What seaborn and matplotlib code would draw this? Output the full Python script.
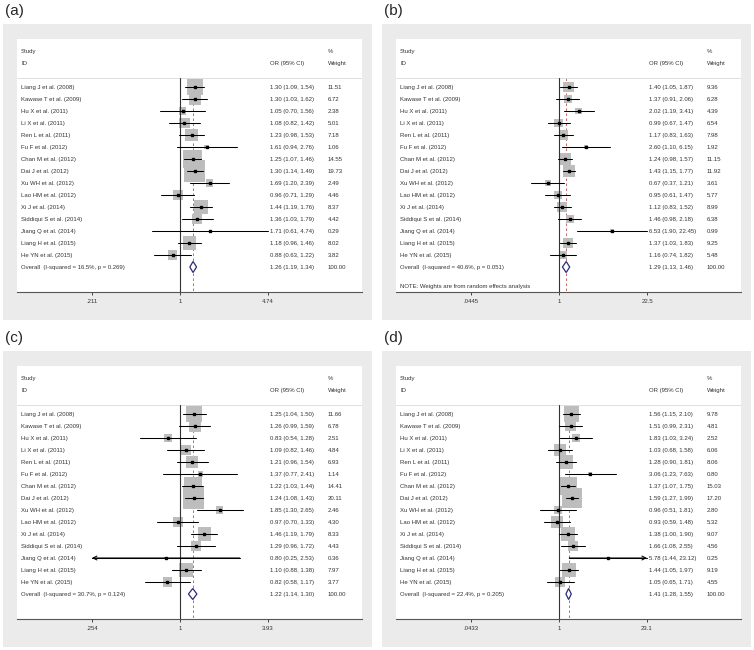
import matplotlib
matplotlib.use("Agg")
import matplotlib.pyplot as plt
from matplotlib.patches import Rectangle, Polygon
import numpy as np
import seaborn as sns

studies = [
    "Liang J et al. (2008)", "Kawase T et al. (2009)", "Hu X et al. (2011)",
    "Li X et al. (2011)", "Ren L et al. (2011)", "Fu F et al. (2012)",
    "Chan M et al. (2012)", "Dai J et al. (2012)", "Xu WH et al. (2012)",
    "Lao HM et al. (2012)", "Xi J et al. (2014)", "Siddiqui S et al. (2014)",
    "Jiang Q et al. (2014)", "Liang H et al. (2015)", "He YN et al. (2015)",
]

# (a)
or_a = [1.30, 1.30, 1.05, 1.08, 1.23, 1.61, 1.25, 1.30, 1.69, 0.96, 1.44, 1.36, 1.71, 1.18, 0.88]
lo_a = [1.09, 1.03, 0.70, 0.82, 0.98, 0.94, 1.07, 1.14, 1.20, 0.71, 1.19, 1.03, 0.61, 0.96, 0.63]
hi_a = [1.54, 1.62, 1.56, 1.42, 1.53, 2.76, 1.46, 1.49, 2.39, 1.29, 1.76, 1.79, 4.74, 1.46, 1.22]
wt_a = [11.51, 6.72, 2.38, 5.01, 7.18, 1.06, 14.55, 19.73, 2.49, 4.46, 8.37, 4.42, 0.29, 8.02, 3.82]
overall_a = [1.26, 1.19, 1.34]
het_a = "Overall  (I-squared = 16.5%, p = 0.269)"
ticks_a = [0.211, 1, 4.74]
ticklabels_a = [".211", "1", "4.74"]

# (b)
or_b = [1.40, 1.37, 2.02, 0.99, 1.17, 2.60, 1.24, 1.43, 0.67, 0.95, 1.12, 1.46, 6.53, 1.37, 1.16]
lo_b = [1.05, 0.91, 1.19, 0.67, 0.83, 1.10, 0.98, 1.15, 0.37, 0.61, 0.83, 0.98, 1.90, 1.03, 0.74]
hi_b = [1.87, 2.06, 3.41, 1.47, 1.63, 6.15, 1.57, 1.77, 1.21, 1.47, 1.52, 2.18, 22.45, 1.83, 1.82]
wt_b = [9.36, 6.28, 4.39, 6.54, 7.98, 1.92, 11.15, 11.92, 3.61, 5.77, 8.99, 6.38, 0.99, 9.25, 5.48]
overall_b = [1.29, 1.13, 1.46]
het_b = "Overall  (I-squared = 40.6%, p = 0.051)"
ticks_b = [0.0445, 1, 22.5]
ticklabels_b = [".0445", "1", "22.5"]

# (c)
or_c = [1.25, 1.26, 0.83, 1.09, 1.21, 1.37, 1.22, 1.24, 1.85, 0.97, 1.46, 1.29, 0.80, 1.10, 0.82]
lo_c = [1.04, 0.99, 0.54, 0.82, 0.96, 0.77, 1.03, 1.08, 1.30, 0.70, 1.19, 0.96, 0.25, 0.88, 0.58]
hi_c = [1.50, 1.59, 1.28, 1.46, 1.54, 2.41, 1.44, 1.43, 2.65, 1.33, 1.79, 1.72, 2.53, 1.38, 1.17]
wt_c = [11.66, 6.78, 2.51, 4.84, 6.93, 1.14, 14.41, 20.11, 2.46, 4.30, 8.33, 4.43, 0.36, 7.97, 3.77]
overall_c = [1.22, 1.14, 1.30]
het_c = "Overall  (I-squared = 30.7%, p = 0.124)"
ticks_c = [0.254, 1, 3.93]
ticklabels_c = [".254", "1", "3.93"]

# (d)
or_d = [1.56, 1.51, 1.83, 1.03, 1.28, 3.06, 1.37, 1.59, 0.96, 0.93, 1.38, 1.66, 5.78, 1.44, 1.05]
lo_d = [1.15, 0.99, 1.03, 0.68, 0.90, 1.23, 1.07, 1.27, 0.51, 0.59, 1.00, 1.08, 1.44, 1.05, 0.65]
hi_d = [2.10, 2.31, 3.24, 1.58, 1.81, 7.63, 1.75, 1.99, 1.81, 1.48, 1.90, 2.55, 23.12, 1.97, 1.71]
wt_d = [9.78, 4.81, 2.52, 6.06, 8.06, 0.80, 15.03, 17.20, 2.80, 5.32, 9.07, 4.56, 0.25, 9.19, 4.55]
overall_d = [1.41, 1.28, 1.55]
het_d = "Overall  (I-squared = 22.4%, p = 0.205)"
ticks_d = [0.0433, 1, 23.1]
ticklabels_d = [".0433", "1", "23.1"]

note_b = "NOTE: Weights are from random effects analysis"

sns.set_theme(style="white")
plt.rcParams["font.family"] = ["Liberation Sans", "DejaVu Sans"]

W, H = 754, 650
fig = plt.figure(figsize=(W / 100, H / 100), dpi=100)

TXT = "#333333"
FS = 4.3


def forest(ox, oy, label, est, lo, hi, wt, overall, het, ticks, ticklabels, box_px, note=None):
    # grey panel background
    bg = fig.add_axes([(ox + 3) / W, 1 - (oy + 320) / H, 369 / W, 296 / H], zorder=-5)
    bg.set_facecolor("#ebebeb")
    bg.set_xticks([])
    bg.set_yticks([])
    for s in bg.spines.values():
        s.set_visible(False)
    fig.text((ox + 5) / W, 1 - (oy + 11) / H, label, fontsize=11, va="center", ha="left")

    left, right, top, bottom = ox + 17, ox + 362, oy + 39, oy + 292
    ax = fig.add_axes([left / W, 1 - bottom / H, (right - left) / W, (bottom - top) / H])
    ax.set_facecolor("white")

    T = ticks[-1]
    null_px = 163
    scale = 88 / np.log(T)  # pixels per ln unit
    xlo = np.exp(-null_px / scale)
    xhi = np.exp((right - left - null_px) / scale)
    ax.set_xscale("log")

    rows = np.arange(len(studies))
    y_over = len(studies)
    y_line = -0.75

    # reference lines
    ax.plot([overall[0], overall[0]], [y_line, 17.2], color="#c0504d", lw=0.6,
            ls=(0, (3, 3)), zorder=1)

    # weight boxes, area proportional to weight
    smax = (box_px * np.sqrt(max(wt)) * 0.72) ** 2
    sns.scatterplot(x=est, y=rows, size=wt, sizes=(0, smax), size_norm=(0, max(wt)),
                    marker="s", color="#bdbdbd", linewidth=0, legend=False, ax=ax, zorder=2)

    ax.plot([1, 1], [y_line, 17.2], color="#333333", lw=0.8, zorder=3)

    for r, e, l, h in zip(rows, est, lo, hi):
        l2, h2 = max(l, ticks[0]), min(h, ticks[-1])
        ax.plot([l2, h2], [r, r], color="black", lw=0.75, zorder=4)
        if l < ticks[0]:
            ax.annotate("", xy=(ticks[0], r), xytext=(h2, r),
                        arrowprops=dict(arrowstyle="->", lw=0.75, color="black",
                                        mutation_scale=7, shrinkA=0, shrinkB=0), zorder=4)
        if h > ticks[-1]:
            ax.annotate("", xy=(ticks[-1], r), xytext=(l2, r),
                        arrowprops=dict(arrowstyle="->", lw=0.75, color="black",
                                        mutation_scale=7, shrinkA=0, shrinkB=0), zorder=4)
    ax.plot(est, rows, ls="none", marker="s", ms=1.6, color="black", zorder=5)

    # overall diamond
    e, l, h = overall
    dh = 0.46
    ax.add_patch(Polygon([(l, y_over), (e, y_over - dh), (h, y_over), (e, y_over + dh)],
                         closed=True, facecolor="white", edgecolor="#2b2b7a", lw=0.9, zorder=5))

    # header
    ax.plot([xlo, xhi], [y_line, y_line], color="#d9d9d9", lw=0.6, zorder=1)
    tr = ax.get_yaxis_transform()
    c_id, c_or, c_wt = 0.0116, 0.733, 0.900
    ax.text(c_id, -3, "Study", transform=tr, fontsize=FS, color=TXT, va="center")
    ax.text(c_id, -2, "ID", transform=tr, fontsize=FS, color=TXT, va="center")
    ax.text(c_or, -2, "OR (95% CI)", transform=tr, fontsize=FS, color=TXT, va="center")
    ax.text(c_wt, -3, "%", transform=tr, fontsize=FS, color=TXT, va="center")
    ax.text(c_wt, -2, "Weight", transform=tr, fontsize=FS, color=TXT, va="center")

    for r, s, e_, l_, h_, w_ in zip(rows, studies, est, lo, hi, wt):
        ax.text(c_id, r, s, transform=tr, fontsize=FS, color=TXT, va="center")
        ax.text(c_or, r, f"{e_:.2f} ({l_:.2f}, {h_:.2f})", transform=tr, fontsize=FS,
                color=TXT, va="center")
        ax.text(c_wt, r, f"{w_:.2f}", transform=tr, fontsize=FS, color=TXT, va="center")
    ax.text(c_id, y_over, het, transform=tr, fontsize=FS, color=TXT, va="center")
    ax.text(c_or, y_over, f"{e:.2f} ({l:.2f}, {h:.2f})", transform=tr, fontsize=FS,
            color=TXT, va="center")
    ax.text(c_wt, y_over, "100.00", transform=tr, fontsize=FS, color=TXT, va="center")
    if note:
        ax.text(c_id, 16.6, note, transform=tr, fontsize=FS, color=TXT, va="center")

    ax.set_xlim(xlo, xhi)
    ax.set_ylim(17.083, -4)
    ax.set_yticks([])
    ax.minorticks_off()
    ax.set_xticks(ticks)
    ax.set_xticklabels(ticklabels)
    ax.tick_params(axis="x", direction="out", length=2.5, width=0.7, pad=2.5,
                   labelsize=FS, colors="#444444", labelcolor=TXT, bottom=True)
    for side in ["top", "left", "right"]:
        ax.spines[side].set_visible(False)
    ax.spines["bottom"].set_color("#555555")
    ax.spines["bottom"].set_linewidth(0.8)
    ax.set_xlabel("")
    ax.set_ylabel("")


forest(0, 0, "(a)", or_a, lo_a, hi_a, wt_a, overall_a, het_a, ticks_a, ticklabels_a, 4.8)
forest(379, 0, "(b)", or_b, lo_b, hi_b, wt_b, overall_b, het_b, ticks_b, ticklabels_b, 3.3, note_b)
forest(0, 327, "(c)", or_c, lo_c, hi_c, wt_c, overall_c, het_c, ticks_c, ticklabels_c, 4.7)
forest(379, 327, "(d)", or_d, lo_d, hi_d, wt_d, overall_d, het_d, ticks_d, ticklabels_d, 4.8)

fig.savefig("out.png", dpi=100, facecolor="white")
